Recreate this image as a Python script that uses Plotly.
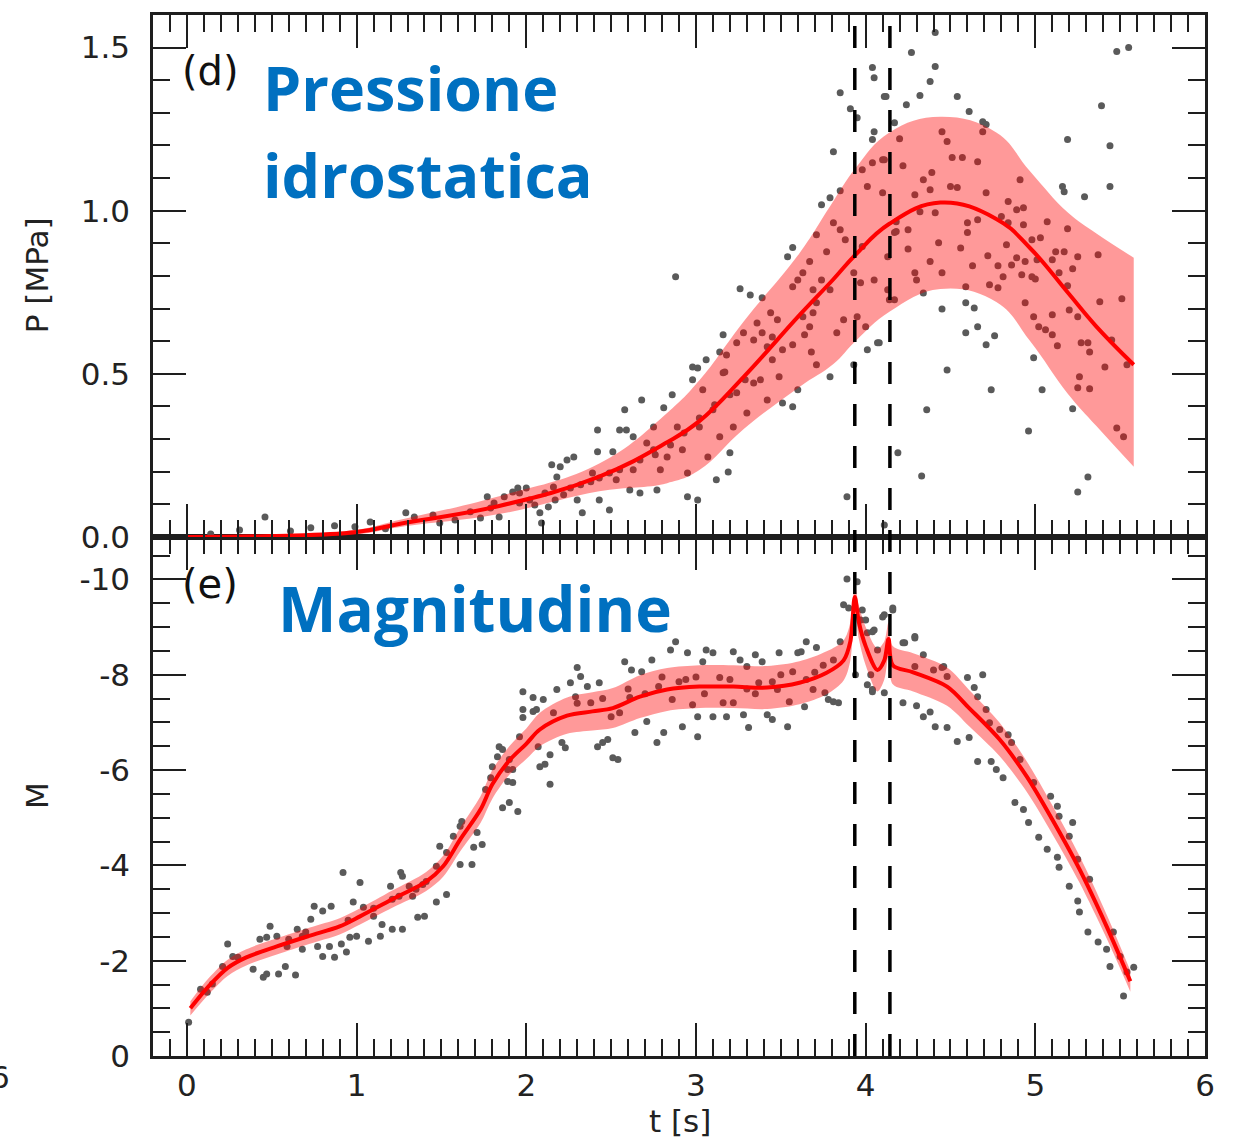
import plotly.graph_objects as go

# ---------------- data ----------------
# Hydrostatic pressure: fitted mean and confidence band
p_t = [0.0, 0.5, 1.0, 1.25, 1.84, 2.43, 2.83, 3.02, 3.28, 3.61, 3.81, 3.94, 4.14, 4.44, 4.77, 4.97, 5.19, 5.36, 5.58]
p_mean = [0.0, 0.003, 0.015, 0.04, 0.095, 0.185, 0.29, 0.355, 0.49, 0.68, 0.79, 0.865, 0.96, 1.025, 0.975, 0.885, 0.75, 0.645, 0.528]
p_upper = [0.002, 0.006, 0.022, 0.052, 0.125, 0.225, 0.38, 0.48, 0.66, 0.87, 1.03, 1.13, 1.24, 1.288, 1.24, 1.12, 0.995, 0.93, 0.856]
p_lower = [0.0, 0.0, 0.008, 0.03, 0.07, 0.14, 0.165, 0.205, 0.33, 0.46, 0.53, 0.6, 0.69, 0.76, 0.72, 0.6, 0.44, 0.34, 0.215]

# Hydrostatic pressure: individual samples (t [s], P [MPa])
p_samples = [
    (0.14, 0.009), (0.31, 0.021), (0.46, 0.061), (0.61, 0.018), (0.73, 0.028), (0.87, 0.034), (0.99, 0.031),
    (1.08, 0.046), (1.17, 0.025), (1.29, 0.074), (1.34, 0.061), (1.45, 0.067), (1.49, 0.043), (1.58, 0.052),
    (1.67, 0.077), (1.73, 0.058), (1.79, 0.089), (1.84, 0.061), (1.95, 0.15), (1.96, 0.135), (2.02, 0.113),
    (2.08, 0.074), (2.09, 0.043), (2.15, 0.221), (2.2, 0.215), (2.24, 0.236), (2.28, 0.245), (2.18, 0.184),
    (2.16, 0.153), (2.33, 0.074), (2.3, 0.113), (2.42, 0.261), (2.42, 0.328), (2.39, 0.196), (2.43, 0.113),
    (2.49, 0.083), (2.51, 0.261), (2.55, 0.328), (2.59, 0.328), (2.58, 0.39), (2.61, 0.144), (2.67, 0.135),
    (2.68, 0.42), (2.53, 0.175), (2.63, 0.206), (2.71, 0.288), (2.77, 0.144), (2.81, 0.396), (2.86, 0.436),
    (2.83, 0.245), (2.79, 0.206), (2.89, 0.337), (2.95, 0.196), (2.98, 0.482), (2.98, 0.521), (2.95, 0.123),
    (3.01, 0.113), (3.07, 0.245), (3.12, 0.175), (3.14, 0.307), (3.16, 0.503), (3.2, 0.258), (3.19, 0.199),
    (3.22, 0.337), (3.24, 0.442), (3.3, 0.38), (3.34, 0.472), (3.38, 0.482), (3.42, 0.42), (3.49, 0.491),
    (3.51, 0.411), (3.57, 0.399), (3.6, 0.451), (3.04, 0.451), (3.1, 0.39), (3.02, 0.337), (2.92, 0.267),
    (2.75, 0.267), (2.63, 0.307), (2.75, 0.337),
    (1.77, 0.123), (1.81, 0.104), (1.87, 0.123), (1.92, 0.138), (1.96, 0.104), (2.0, 0.15), (2.05, 0.098),
    (2.11, 0.135), (2.13, 0.092), (2.17, 0.113), (2.22, 0.129), (2.26, 0.15), (2.32, 0.16), (2.38, 0.169),
    (2.43, 0.181), (2.49, 0.196), (2.55, 0.206), (2.67, 0.236), (2.76, 0.252), (2.85, 0.282), (2.93, 0.319),
    (3.02, 0.365), (3.11, 0.405), (3.2, 0.436), (3.29, 0.482),
    (2.88, 0.798), (3.26, 0.761), (3.32, 0.742), (3.39, 0.733), (3.16, 0.62), (3.14, 0.567), (3.06, 0.543),
    (3.01, 0.518), (3.57, 0.887), (3.54, 0.859), (3.74, 1.018), (3.79, 1.04), (3.85, 1.061), (3.81, 1.181),
    (3.85, 1.362), (3.91, 1.313), (3.95, 1.285), (4.04, 1.439), (4.05, 1.408), (4.11, 1.35), (4.17, 1.27),
    (4.05, 1.242), (4.04, 1.218), (3.98, 1.126), (4.04, 1.147), (4.1, 1.156), (4.01, 1.074), (4.1, 1.055),
    (3.81, 0.963), (3.85, 0.942), (3.88, 0.911), (3.71, 0.926), (3.77, 0.874), (3.67, 0.844), (3.63, 0.81),
    (3.6, 0.788), (3.57, 0.767), (3.69, 0.758), (3.79, 0.758), (3.74, 0.788), (3.93, 0.81), (3.98, 0.89),
    (3.97, 0.779), (4.05, 0.788), (4.13, 0.859), (4.18, 0.936), (4.13, 0.758), (4.14, 0.727), (3.87, 0.666),
    (3.95, 0.675), (4.0, 0.644), (3.83, 0.626), (3.69, 0.687), (3.71, 0.718), (3.63, 0.675), (3.67, 0.644),
    (3.44, 0.687), (3.48, 0.666), (3.36, 0.656), (3.28, 0.626), (3.34, 0.604), (3.39, 0.626), (3.45, 0.613),
    (3.42, 0.583), (3.51, 0.574), (3.57, 0.589), (3.64, 0.62), (3.68, 0.567), (3.71, 0.528), (3.45, 0.543),
    (3.24, 0.595), (3.18, 0.558), (3.17, 0.506), (3.79, 0.491), (3.93, 0.528), (4.01, 0.574), (4.07, 0.595),
    (4.27, 1.485), (4.41, 1.442), (4.38, 1.396), (4.32, 1.353), (4.12, 1.35), (4.24, 1.325), (4.54, 1.35),
    (4.61, 1.304), (4.69, 1.273), (4.71, 1.264), (4.69, 1.242), (4.2, 1.221), (4.45, 1.242), (4.48, 1.212),
    (4.11, 1.156), (4.22, 1.138), (4.51, 1.163), (4.57, 1.163), (4.66, 1.15), (4.34, 1.095), (4.39, 1.117),
    (4.29, 1.049), (4.38, 1.064), (4.5, 1.074), (4.54, 1.071), (4.71, 1.055), (4.91, 1.095), (4.84, 1.028),
    (4.89, 1.003), (4.93, 1.009), (4.32, 0.997), (4.41, 0.994), (4.18, 0.966), (4.6, 0.963), (4.66, 0.972),
    (4.8, 0.982), (4.84, 0.963), (4.93, 0.957), (5.07, 0.966), (5.19, 0.945), (4.17, 0.933), (4.25, 0.942),
    (4.6, 0.933), (4.98, 0.911), (5.03, 0.917), (4.43, 0.902), (4.25, 0.883), (4.56, 0.886), (4.83, 0.896),
    (5.12, 0.874), (5.17, 0.874), (5.25, 0.859), (5.37, 0.865), (4.72, 0.862), (4.89, 0.856), (4.94, 0.844),
    (5.01, 0.85), (5.1, 0.85), (4.38, 0.844), (4.63, 0.831), (4.78, 0.831), (4.86, 0.834), (5.22, 0.822),
    (4.29, 0.81), (4.45, 0.81), (4.92, 0.804), (4.98, 0.798), (5.14, 0.81), (4.3, 0.788), (4.81, 0.798),
    (5.0, 0.791), (4.73, 0.773), (4.78, 0.764), (4.59, 0.767), (5.19, 0.77), (4.34, 0.748), (4.17, 0.727),
    (5.38, 0.721), (5.51, 0.73), (4.59, 0.718), (4.64, 0.702), (4.45, 0.699), (4.94, 0.718), (5.2, 0.696),
    (4.99, 0.675), (5.1, 0.681), (5.25, 0.675), (5.02, 0.644), (5.06, 0.635), (5.1, 0.62), (4.59, 0.626),
    (4.66, 0.644), (4.76, 0.617), (4.71, 0.589), (5.13, 0.586), (5.27, 0.595), (5.31, 0.595), (5.32, 0.567),
    (5.45, 0.604), (4.99, 0.549), (5.41, 0.521), (5.54, 0.528), (4.48, 0.512), (5.26, 0.491), (5.25, 0.457),
    (5.32, 0.454), (4.74, 0.451), (5.04, 0.451), (4.36, 0.39), (5.22, 0.393), (4.96, 0.325), (5.48, 0.334),
    (5.52, 0.307), (4.19, 0.258), (4.33, 0.187), (5.31, 0.184), (5.25, 0.138), (5.48, 1.488), (5.55, 1.5),
    (5.39, 1.322), (5.19, 1.218), (5.44, 1.199), (5.16, 1.074), (5.17, 1.058), (5.29, 1.043), (5.44, 1.074),
    (4.08, 0.595), (4.41, 1.546), (3.89, 0.123), (4.11, 0.037),
]

# Magnitude: fitted mean and band half-width
m_t = [0.02, 0.13, 0.24, 0.35, 0.53, 0.72, 0.90, 1.02, 1.21, 1.41, 1.51, 1.61, 1.73, 1.80, 1.90, 2.00, 2.08,
       2.24, 2.39, 2.51, 2.67, 2.83, 3.02, 3.22, 3.42, 3.61, 3.77, 3.87, 3.91, 3.936, 3.96, 4.00, 4.07, 4.11,
       4.135, 4.16, 4.28, 4.48, 4.61, 4.79, 4.95, 5.10, 5.26, 5.42, 5.56]
m_mean = [-1.0, -1.47, -1.85, -2.07, -2.3, -2.52, -2.72, -2.93, -3.29, -3.66, -3.98, -4.54, -5.17, -5.7, -6.2,
          -6.55, -6.85, -7.14, -7.23, -7.3, -7.54, -7.69, -7.75, -7.75, -7.73, -7.83, -8.04, -8.3, -8.7, -9.63,
          -9.1, -8.6, -8.1, -8.3, -8.75, -8.2, -8.05, -7.75, -7.3, -6.64, -5.86, -4.96, -3.92, -2.72, -1.57]
m_halfwidth = [0.15, 0.17, 0.17, 0.17, 0.17, 0.17, 0.17, 0.17, 0.18, 0.2, 0.22, 0.25, 0.28, 0.3, 0.3, 0.32, 0.35,
               0.38, 0.4, 0.42, 0.45, 0.45, 0.45, 0.45, 0.45, 0.45, 0.45, 0.42, 0.4, 0.25, 0.35, 0.4, 0.45, 0.4,
               0.35, 0.4, 0.4, 0.4, 0.38, 0.35, 0.32, 0.3, 0.28, 0.25, 0.22]

# Magnitude: individual samples (t [s], M)
m_samples = [
    (0.01, -0.71), (0.08, -1.4), (0.12, -1.34), (0.15, -1.51), (0.21, -1.88), (0.24, -2.35), (0.27, -2.09),
    (0.3, -2.07), (0.39, -1.82), (0.45, -1.65), (0.47, -1.72), (0.54, -1.72), (0.58, -1.88), (0.64, -1.7),
    (0.49, -2.72), (0.43, -2.45), (0.47, -2.49), (0.53, -2.51), (0.59, -2.3), (0.65, -2.66), (0.68, -2.51),
    (0.68, -2.24), (0.73, -2.87), (0.77, -2.3), (0.75, -3.14), (0.8, -3.04), (0.85, -3.14), (0.8, -2.09),
    (0.87, -2.07), (0.84, -2.3), (0.91, -2.35), (0.94, -2.18), (0.92, -3.85), (1.02, -3.64), (0.96, -2.49),
    (1.0, -2.51), (0.98, -3.23), (1.04, -3.12), (1.07, -2.41), (1.14, -2.51), (1.1, -2.93), (1.15, -2.76),
    (1.21, -2.66), (1.27, -2.66), (1.2, -3.56), (1.26, -3.85), (1.27, -3.77), (1.31, -3.56), (1.21, -3.29),
    (1.33, -3.35), (1.36, -2.91), (1.4, -2.93), (1.39, -3.6), (1.41, -3.66), (1.47, -3.23), (1.53, -3.39),
    (1.47, -3.98), (1.49, -4.4), (1.53, -4.27), (1.57, -4.61), (1.61, -4.82), (1.62, -4.92), (1.61, -4.02),
    (1.68, -4.02), (1.69, -4.38), (1.74, -4.44), (1.71, -4.69), (1.76, -5.59), (1.79, -5.84), (1.8, -6.07),
    (1.83, -6.28), (1.84, -6.49), (1.86, -5.21), (1.9, -5.32), (1.95, -5.13), (1.89, -5.76), (1.92, -6.01),
    (1.96, -6.7), (1.98, -7.27), (2.04, -7.23), (2.07, -6.49), (2.08, -6.07),
    (0.6, -2.45), (0.7, -2.6), (0.95, -2.85), (1.1, -3.1), (1.25, -3.35), (1.35, -3.5),
    (1.86, -6.43), (1.9, -6.22), (1.89, -6.01), (1.92, -5.74), (1.98, -7.64), (1.98, -7.1), (2.04, -7.52),
    (2.06, -7.27), (2.1, -7.48), (2.11, -6.12), (2.14, -6.32), (2.14, -5.7), (2.16, -7.2), (2.18, -7.69),
    (2.21, -6.58), (2.23, -6.47), (2.26, -7.83), (2.3, -8.15), (2.32, -7.96), (2.29, -7.54), (2.36, -7.75),
    (2.38, -7.41), (2.42, -6.49), (2.45, -6.58), (2.48, -6.64), (2.43, -7.83), (2.5, -7.12), (2.51, -6.26),
    (2.54, -6.22), (2.58, -8.27), (2.62, -8.1), (2.61, -7.52), (2.64, -6.79), (2.68, -8.06), (2.71, -7.02),
    (2.74, -8.31), (2.77, -6.58), (2.81, -6.79), (2.78, -7.75), (2.85, -8.52), (2.88, -8.69), (2.86, -7.48),
    (2.92, -6.91), (2.95, -8.46), (2.94, -7.9), (2.98, -7.37), (3.01, -7.12), (3.01, -6.7), (3.04, -8.27),
    (3.06, -8.52), (3.1, -8.46), (3.1, -7.12), (3.14, -7.94), (3.16, -7.41), (3.18, -7.12), (3.22, -8.48),
    (3.22, -7.41), (3.26, -8.31), (3.28, -7.16), (3.31, -6.89), (3.3, -8.17), (3.35, -8.42), (3.37, -7.83),
    (3.39, -8.27), (3.42, -7.16), (3.45, -7.06), (3.48, -7.69), (3.49, -8.46), (3.54, -6.91), (3.55, -7.43),
    (3.57, -8.06), (3.6, -8.46), (3.62, -8.48), (3.64, -7.33), (3.65, -8.69), (3.69, -7.69), (3.71, -8.57),
    (3.76, -7.62), (3.78, -7.48), (3.81, -7.43), (3.84, -7.41), (3.81, -8.31), (3.85, -8.69), (3.87, -9.47),
    (3.9, -9.4), (3.97, -9.15), (4.01, -8.88), (4.03, -8.0), (4.07, -8.52),
    (2.3, -7.4), (2.45, -7.5), (2.6, -7.7), (2.7, -7.6), (2.9, -7.85), (3.05, -7.6), (3.2, -7.9), (3.35, -7.6),
    (3.5, -8.0), (3.65, -7.9), (3.75, -8.2), (2.55, -7.2), (2.8, -7.95), (3.0, -7.95), (3.3, -7.7),
    (3.45, -7.85), (3.7, -8.05),
    (3.89, -10.01), (3.95, -9.95), (3.98, -9.36), (4.0, -9.15), (4.05, -8.94), (4.16, -9.36), (4.1, -9.21),
    (4.23, -8.67), (4.29, -8.8), (4.34, -8.42), (4.46, -8.17), (4.6, -7.94), (4.69, -8.0), (4.04, -7.64),
    (3.94, -8.0), (4.01, -7.79),
    (4.04, -8.9), (4.11, -9.26), (4.16, -9.4), (4.04, -7.69), (4.11, -7.62), (4.22, -8.67), (4.29, -8.77),
    (4.29, -8.17), (4.4, -8.1), (4.45, -8.15), (4.48, -7.96), (4.64, -7.73), (4.66, -7.54), (4.22, -7.41),
    (4.3, -7.35), (4.34, -7.12), (4.38, -7.22), (4.41, -6.91), (4.48, -6.89), (4.54, -6.6), (4.61, -6.68),
    (4.71, -7.27), (4.73, -6.99), (4.79, -6.85), (4.84, -6.74), (4.86, -6.58), (4.66, -6.18), (4.74, -6.18),
    (4.77, -6.01), (4.81, -5.84), (4.91, -6.22), (4.99, -5.74), (4.88, -5.32), (4.93, -5.17), (4.96, -4.9),
    (5.02, -4.59), (5.09, -5.45), (5.13, -5.24), (5.14, -5.03), (5.22, -4.9), (5.07, -4.34), (5.13, -4.17),
    (5.14, -3.96), (5.2, -4.61), (5.25, -4.13), (5.2, -3.56), (5.25, -3.25), (5.26, -3.02), (5.32, -3.71),
    (5.31, -2.6), (5.37, -2.39), (5.42, -2.24), (5.44, -1.88), (5.5, -2.09), (5.54, -1.76), (5.58, -1.86),
    (5.52, -1.26), (5.46, -2.6),
]

# Times of the two marked events
event_times = [3.936, 4.143]

# Tick labels
x_ticks = [0, 1, 2, 3, 4, 5, 6]
x_ticktext = ["0", "1", "2", "3", "4", "5", "6"]
p_ticks = [0.0, 0.5, 1.0, 1.5]
p_ticktext = ["0.0", "0.5", "1.0", "1.5"]
m_ticks = [0, -2, -4, -6, -8, -10]
m_ticktext = ["0", "-2", "-4", "-6", "-8", "-10"]

# ---------------- styling ----------------
AXIS_COLOR = "#1e1e1e"
DOT_COLOR = "#5a5a5a"
BAND_COLOR = "rgba(255,0,0,0.4)"
LINE_COLOR = "#ff0000"
BLUE = "#0070C0"
TICK_FONT = dict(family="DejaVu Sans", size=31, color="#222222")

fig = go.Figure()


def add_panel(t, mean, lower, upper, samples, xa, ya, smooth):
    """Scatter samples, then the shaded band on top of them, then the fitted line."""
    fig.add_trace(go.Scatter(
        x=[s[0] for s in samples], y=[s[1] for s in samples], mode="markers",
        marker=dict(size=7, color=DOT_COLOR), xaxis=xa, yaxis=ya, showlegend=False, hoverinfo="skip"))
    fig.add_trace(go.Scatter(
        x=t, y=lower, mode="lines", line=dict(width=0, shape="spline", smoothing=smooth),
        xaxis=xa, yaxis=ya, showlegend=False, hoverinfo="skip"))
    fig.add_trace(go.Scatter(
        x=t, y=upper, mode="lines", fill="tonexty", fillcolor=BAND_COLOR,
        line=dict(width=0, shape="spline", smoothing=smooth),
        xaxis=xa, yaxis=ya, showlegend=False, hoverinfo="skip"))
    fig.add_trace(go.Scatter(
        x=t, y=mean, mode="lines", line=dict(color=LINE_COLOR, width=4, shape="spline", smoothing=smooth),
        xaxis=xa, yaxis=ya, showlegend=False))


# top panel: hydrostatic pressure
add_panel(p_t, p_mean, p_lower, p_upper, p_samples, "x2", "y2", 1.2)

# bottom panel: magnitude
m_upper = [m - h for m, h in zip(m_mean, m_halfwidth)]
m_lower = [m + h for m, h in zip(m_mean, m_halfwidth)]
add_panel(m_t, m_mean, m_lower, m_upper, m_samples, "x", "y", 0.9)

# dashed event markers spanning both panels
for te in event_times:
    fig.add_shape(type="line", xref="x", yref="paper", x0=te, x1=te, y0=0, y1=1,
                  line=dict(color="black", width=3.5, dash="22px,20px"), layer="above")

common_axis = dict(
    showline=True, linecolor=AXIS_COLOR, linewidth=2.5, mirror="ticks",
    ticks="inside", tickcolor=AXIS_COLOR, tickwidth=2, showgrid=False, zeroline=False,
    tickfont=TICK_FONT,
)

x_common = dict(common_axis, range=[-0.2, 6.0], tickmode="array", tickvals=x_ticks, ticktext=x_ticktext,
                ticklen=33,
                minor=dict(ticks="inside", ticklen=17, tickwidth=2, tickcolor=AXIS_COLOR, dtick=0.1, tick0=0,
                           showgrid=False))

split = 0.4986
fig.update_layout(
    width=1243, height=1145,
    margin=dict(l=153, r=38, t=15, b=89),
    paper_bgcolor="white", plot_bgcolor="white",
    xaxis=dict(x_common, domain=[0, 1], anchor="y", ticklabelstandoff=0),
    xaxis2=dict(x_common, domain=[0, 1], anchor="y2", matches="x", showticklabels=False),
    yaxis=dict(common_axis, domain=[0, split], anchor="x", range=[0, -10.89], tickmode="array",
               tickvals=m_ticks, ticktext=m_ticktext, ticklen=33, ticklabelstandoff=14,
               minor=dict(ticks="inside", ticklen=17, tickwidth=2, tickcolor=AXIS_COLOR, dtick=0.5, tick0=0,
                          showgrid=False)),
    yaxis2=dict(common_axis, domain=[split, 1], anchor="x2", range=[0, 1.6], tickmode="array",
                tickvals=p_ticks, ticktext=p_ticktext, ticklen=33, ticklabelstandoff=14,
                minor=dict(ticks="inside", ticklen=17, tickwidth=2, tickcolor=AXIS_COLOR, dtick=0.1, tick0=0,
                           showgrid=False)),
)

label_font = dict(family="DejaVu Sans", size=31, color="#222222")
panel_font = dict(family="DejaVu Sans", size=40, color="#111111")
title_font = dict(family="Open Sans", size=61, color=BLUE)
notes = [
    dict(text="(d)", x=0.026, y=0.946, xanchor="left", yanchor="middle", font=panel_font),
    dict(text="(e)", x=0.026, y=0.4535, xanchor="left", yanchor="middle", font=panel_font),
    dict(text="<b>Pressione</b>", x=0.103, y=0.9305, xanchor="left", yanchor="middle", font=title_font),
    dict(text="<b>idrostatica</b>", x=0.103, y=0.8468, xanchor="left", yanchor="middle", font=title_font),
    dict(text="<b>Magnitudine</b>", x=0.117, y=0.4308, xanchor="left", yanchor="middle",
         font=dict(family="Open Sans", size=62, color=BLUE)),
    dict(text="P [MPa]", x=-0.1103, y=0.750, xanchor="center", yanchor="middle", textangle=-90, font=label_font),
    dict(text="M", x=-0.1103, y=0.2507, xanchor="center", yanchor="middle", textangle=-90, font=label_font),
    dict(text="t [s]", x=0.501, y=-0.0625, xanchor="center", yanchor="middle", font=label_font),
    dict(text="6", x=-0.1454, y=-0.0202, xanchor="center", yanchor="middle", font=label_font),
]
for n in notes:
    fig.add_annotation(xref="paper", yref="paper", showarrow=False, **n)

fig.write_html("out.html")
